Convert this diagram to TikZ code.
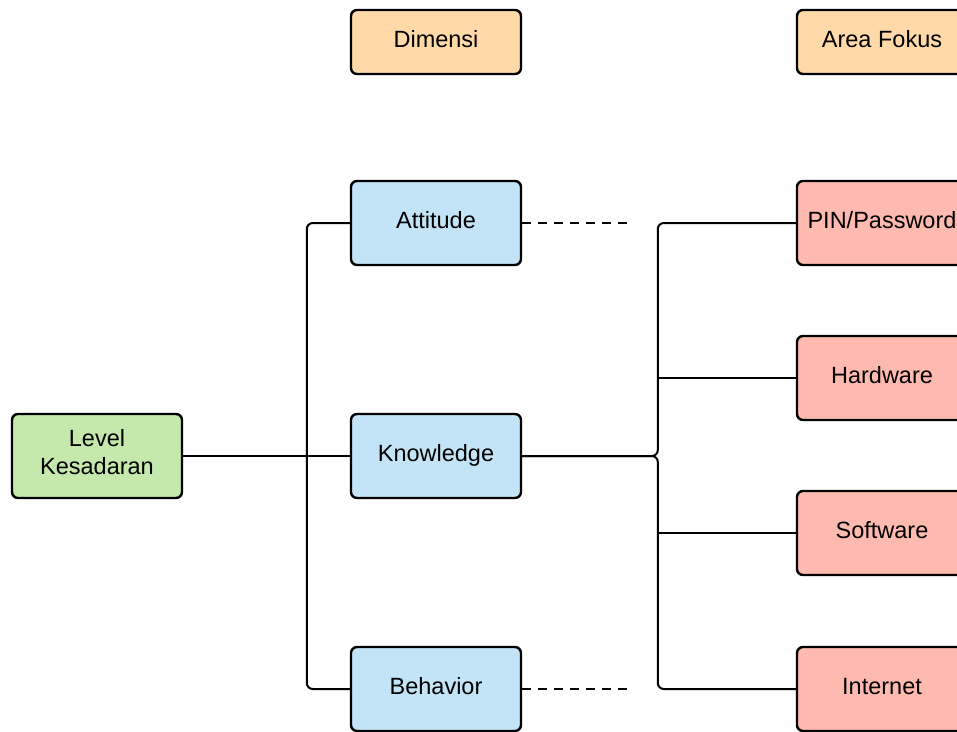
\documentclass[tikz,border=0pt]{standalone}
\usepackage{fontspec}
\setmainfont{Liberation Sans}
\definecolor{forange}{RGB}{255,218,168}
\definecolor{fblue}{RGB}{194,228,246}
\definecolor{fgreen}{RGB}{197,232,172}
\definecolor{fred}{RGB}{255,186,176}
\tikzset{
  box/.style={draw=black, line width=2.4pt, rounded corners=6pt, minimum width=170pt, minimum height=84pt, inner sep=0pt},
  txt/.style={inner sep=0pt, align=center, font=\fontsize{23.5}{28}\selectfont},
  btext/.style={label={[txt,text height=17pt,text depth=5pt,yshift=1pt]center:{#1}}},
  mtext/.style={label={[txt,yshift=3.5pt]center:{#1}}},
  hdr/.style={box, fill=forange, minimum height=64pt},
  dim/.style={box, fill=fblue},
  lvl/.style={box, fill=fgreen},
  area/.style={box, fill=fred},
  conn/.style={draw=black, line width=2pt, rounded corners=6pt},
  dashconn/.style={draw=black, line width=2pt, dash pattern=on 9pt off 7pt}
}
\begin{document}
\begin{tikzpicture}[x=1pt,y=-1pt]
\useasboundingbox (0,0) rectangle (957,731);
\clip (0,0) rectangle (957,731);
% headers
\node[hdr, btext={Dimensi}] (dimh) at (436,42) {};
\node[hdr, btext={Area Fokus}] (areah) at (882,42) {};
% left
\node[lvl, mtext={Level\\Kesadaran}] (lvl) at (97,456) {};
% dimensions
\node[dim, btext={Attitude}] (att) at (436,223) {};
\node[dim, btext={Knowledge}] (kno) at (436,456) {};
\node[dim, btext={Behavior}] (beh) at (436,689) {};
% areas
\node[area, btext={PIN/Password}] (pin) at (882,223) {};
\node[area, btext={Hardware}] (hw) at (882,378) {};
\node[area, btext={Software}] (sw) at (882,533) {};
\node[area, btext={Internet}] (inet) at (882,689) {};
% left connectors
\draw[conn] (lvl.east) -- (kno.west);
\draw[conn] (att.west) -- ++(-43,0) |- (beh.west);
% right connectors
\coordinate (rtop) at ([xshift=-138pt]pin.west);
\coordinate (rbot) at ([xshift=-138pt]inet.west);
\coordinate (rhw) at ([xshift=-138pt]hw.west);
\coordinate (rsw) at ([xshift=-138pt]sw.west);
\draw[conn] (kno.east) -| (rtop) -- (pin.west);
\draw[conn] (kno.east) -| (rbot) -- (inet.west);
\draw[conn] (rhw) -- (hw.west);
\draw[conn] (rsw) -- (sw.west);
% dashed
\coordinate (attd) at ([xshift=106pt]att.east);
\coordinate (behd) at ([xshift=106pt]beh.east);
\draw[dashconn] (att.east) -- (attd);
\draw[dashconn] (beh.east) -- (behd);
\end{tikzpicture}
\end{document}
